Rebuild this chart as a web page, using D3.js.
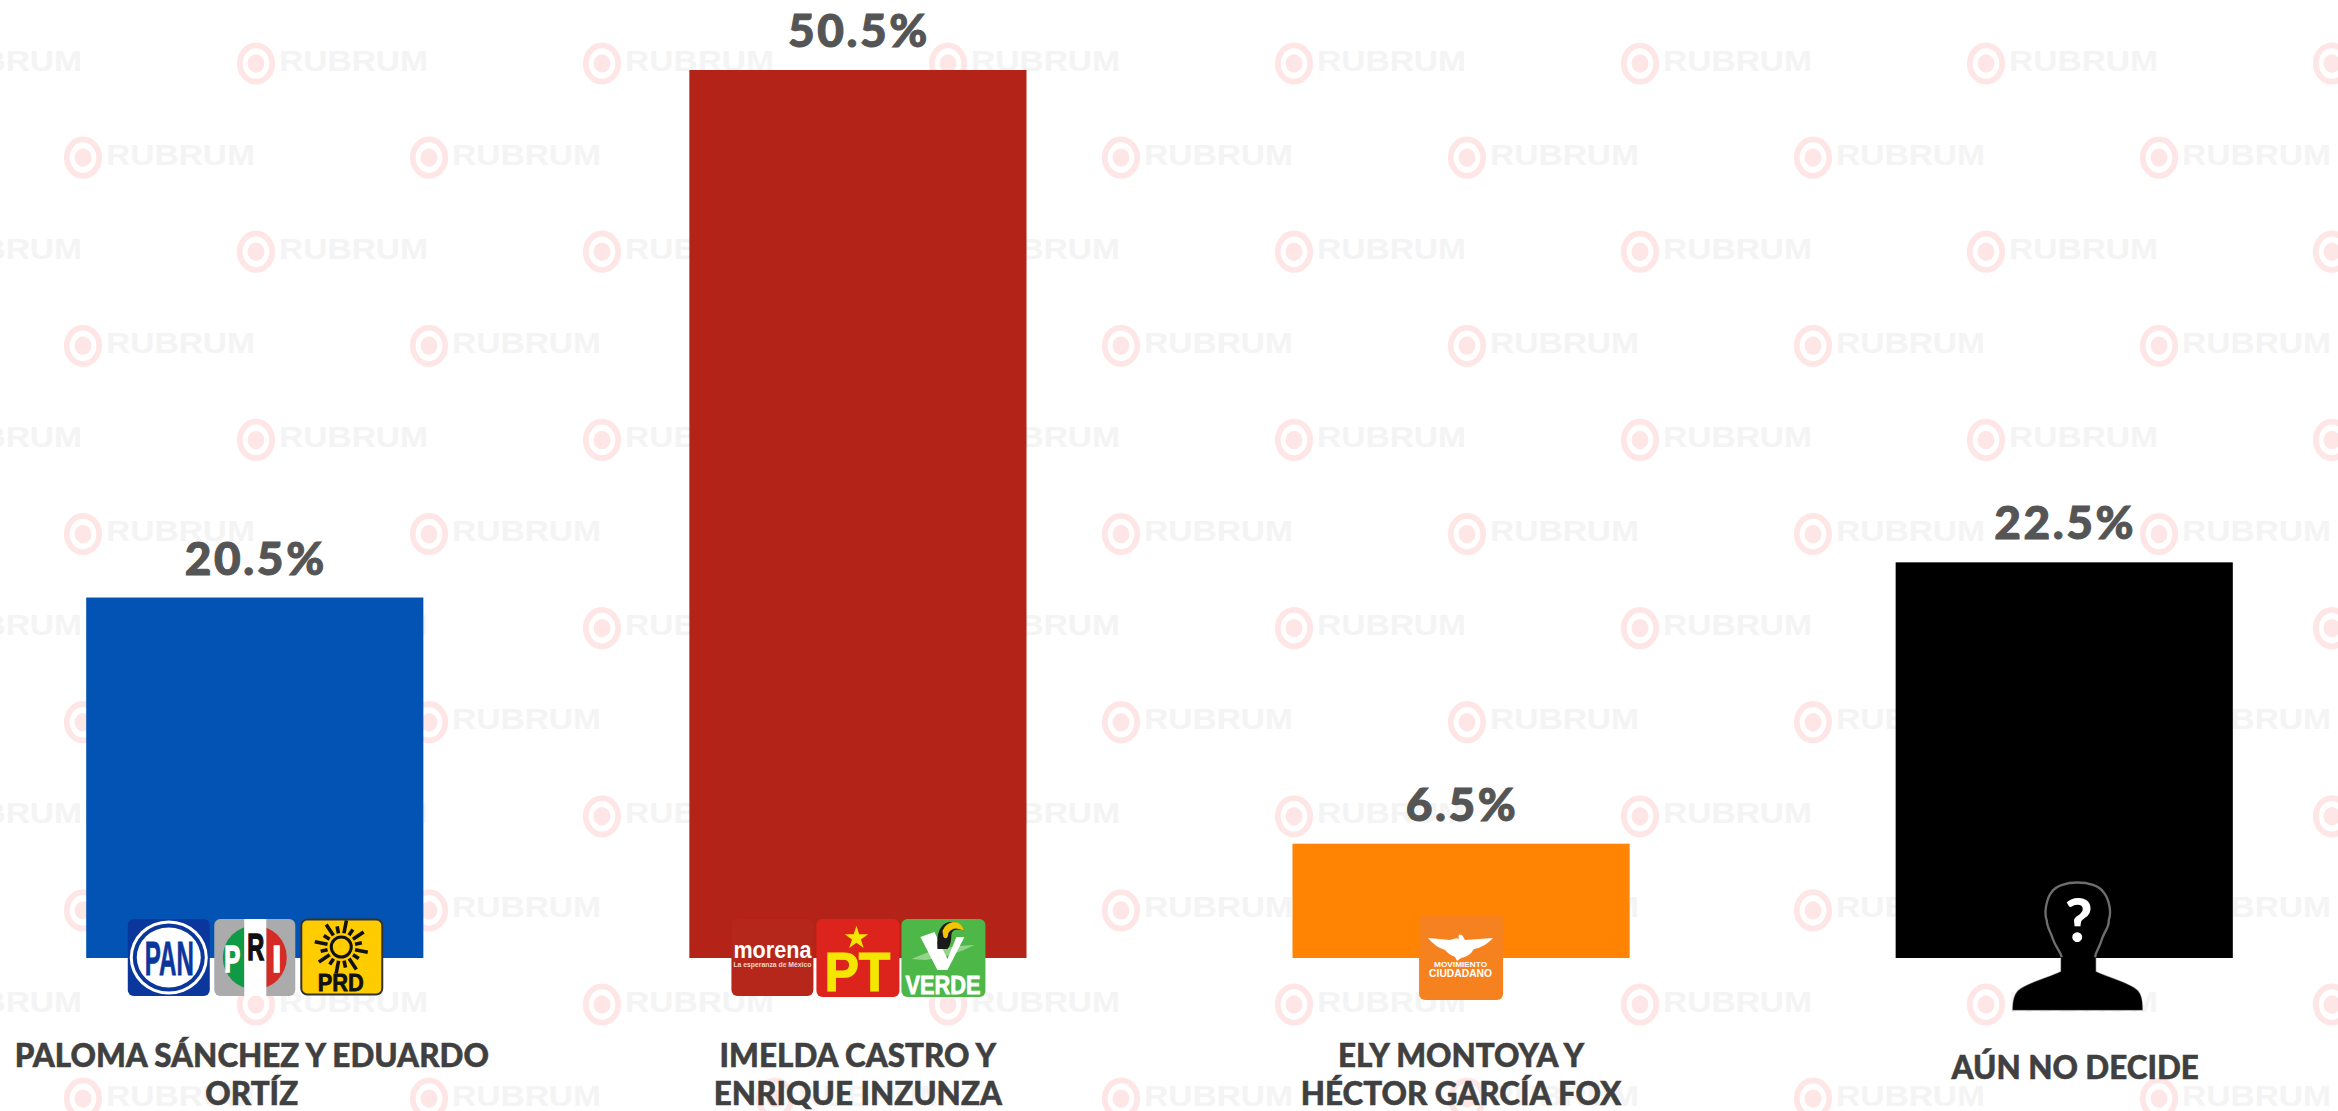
<!DOCTYPE html>
<html><head><meta charset="utf-8">
<script src="https://cdn.jsdelivr.net/npm/d3@7"></script>
<style>html,body{margin:0;padding:0;background:#fff;overflow:hidden}svg{display:block}</style>
</head><body><svg id="c" width="2338" height="1111"></svg>
<script>
const categories = ["PALOMA SÁNCHEZ Y EDUARDO ORTÍZ","IMELDA CASTRO Y ENRIQUE INZUNZA","ELY MONTOYA Y HÉCTOR GARCÍA FOX","AÚN NO DECIDE"];
const labelLines = [["PALOMA SÁNCHEZ Y EDUARDO","ORTÍZ"],["IMELDA CASTRO Y","ENRIQUE INZUNZA"],["ELY MONTOYA Y","HÉCTOR GARCÍA FOX"],["AÚN NO DECIDE"]];
const values = [20.5,50.5,6.5,22.5];
const barColors = ["#0353b4","#b32317","#ff8403","#000000"];

const svg = d3.select("#c");
const x = d3.scaleBand().domain(categories).range([-46.5,2365.5]).paddingInner(0.441).paddingOuter(0.22);
const y = d3.scaleLinear().domain([0,50.5]).range([958,70]);

// watermark
const wm = svg.append("g");
d3.range(12).forEach(r=>{
  const cy = 63.5+r*94.1;
  d3.range(8).forEach(k=>{
    const cx = (r%2?83:-90)+k*346;
    const g = wm.append("g").attr("transform",`translate(${cx},${cy})`);
    g.append("ellipse").attr("rx",16.2).attr("ry",18.2).attr("fill","none").attr("stroke","#fee6e6").attr("stroke-width",5.8);
    g.append("ellipse").attr("rx",8.5).attr("ry",9.2).attr("fill","#fee6e6");
    g.append("text").attr("x",23).attr("y",7).attr("font-family","Liberation Sans").attr("font-weight",700)
      .attr("font-size",29).attr("fill","#f4f4f4").attr("textLength",149).attr("lengthAdjust","spacingAndGlyphs").text("RUBRUM");
  });
});

// bars
svg.append("g").selectAll("rect").data(categories).join("rect")
  .attr("x",d=>x(d)).attr("width",x.bandwidth())
  .attr("y",(d,i)=>y(values[i])).attr("height",(d,i)=>y(0)-y(values[i]))
  .attr("fill",(d,i)=>barColors[i]);

// value labels
svg.append("g").selectAll("text").data(categories).join("text")
  .attr("x",d=>x(d)+x.bandwidth()/2+1).attr("y",(d,i)=>y(values[i])-23)
  .attr("text-anchor","middle").attr("font-family","Lato").attr("font-weight",900).attr("font-size",46)
  .attr("letter-spacing",2.6).attr("stroke","#555555").attr("stroke-width",1)
  .attr("fill","#555555").text((d,i)=>values[i].toFixed(1)+"%");

// category labels
const labelTop = [1066.5,1066.5,1066.5,1079];
const labelDx = [-3,0,0,11];
svg.append("g").selectAll("text").data(categories).join("text")
  .attr("text-anchor","middle").attr("font-family","Lato").attr("font-weight",900).attr("font-size",31.4)
  .attr("fill","#404040").attr("stroke","#404040").attr("stroke-width",0.5)
  .each(function(d,i){
    d3.select(this).selectAll("tspan").data(labelLines[i]).join("tspan")
      .attr("x",x(d)+x.bandwidth()/2+labelDx[i]).attr("y",(l,j)=>labelTop[i]+j*38.5).text(l=>l);
  });

// logos
const font = "Liberation Sans";
function box(g,w,h,fill,stroke){return g.append("rect").attr("width",w).attr("height",h).attr("rx",6).attr("fill",fill).attr("stroke",stroke||"none");}
function txt(g,s,tx,ty,size,fill,len,sw){
  const t=g.append("text").attr("x",tx).attr("y",ty).attr("font-family",font).attr("font-weight",700).attr("font-size",size).attr("fill",fill).text(s);
  if(len) t.attr("textLength",len).attr("lengthAdjust","spacingAndGlyphs");
  if(sw) t.attr("stroke",fill).attr("stroke-width",sw);
  return t;
}
function logoPAN(g){
  box(g,82,77,"#0b369c");
  g.append("ellipse").attr("cx",41).attr("cy",38.5).attr("rx",39).attr("ry",37).attr("fill","#fff");
  g.append("ellipse").attr("cx",41).attr("cy",38.5).attr("rx",36).attr("ry",34).attr("fill","#0b369c");
  g.append("ellipse").attr("cx",41).attr("cy",38.5).attr("rx",32).attr("ry",30).attr("fill","#fff");
  txt(g,"PAN",17,56,48,"#0b369c",49,0.8);
}
function logoPRI(g){
  box(g,81,77,"#ababab");
  g.append("clipPath").attr("id","priL").append("rect").attr("width",30).attr("height",77);
  g.append("clipPath").attr("id","priR").append("rect").attr("x",52).attr("width",30).attr("height",77);
  g.append("circle").attr("cx",40.5).attr("cy",38.5).attr("r",32).attr("fill","#0f9a45").attr("clip-path","url(#priL)");
  g.append("circle").attr("cx",40.5).attr("cy",38.5).attr("r",32).attr("fill","#d52b26").attr("clip-path","url(#priR)");
  g.append("rect").attr("x",30).attr("width",22).attr("height",77).attr("fill","#fff");
  txt(g,"P",10,53,37,"#fff",16,1.5);
  txt(g,"R",33,41,37,"#111",17,1.5);
  txt(g,"I",58,53,37,"#fff",9,1.5);
}
function logoPRD(g){
  box(g,81,75,"#ffcc00","#333").attr("stroke-width",2).attr("x",0.5).attr("y",0.5);
  const rays=g.append("g").attr("transform","translate(40.5,28)");
  rays.selectAll("line").data(d3.range(16)).join("line")
    .attr("x1",14).attr("x2",d=>d%2?21:27).attr("stroke","#111").attr("stroke-width",3.6)
    .attr("transform",d=>`rotate(${d*22.5+11})`);
  rays.append("circle").attr("r",10).attr("fill","none").attr("stroke","#111").attr("stroke-width",3);
  txt(g,"PRD",17,72,23.5,"#111",46,0.8);
}
function logoMorena(g){
  box(g,82,77,"#b5261b");
  txt(g,"morena",2,39,24,"#fff",78);
  txt(g,"La esperanza de México",2,48,7.5,"#f4d5d0",78);
}
function logoPT(g){
  box(g,83,78,"#dc241c");
  g.append("path").attr("d",d3.symbol(d3.symbolStar,170)()).attr("transform","translate(40,19)").attr("fill","#f3e600");
  txt(g,"PT",8,72,55,"#f3e600",66,1.2);
}
function logoVerde(g){
  box(g,84,78,"#4db848");
  g.append("path").attr("d","M10,40 Q40,26 73,26 Q50,38 24,41 Z").attr("fill","#93d48a");
  g.append("path").attr("d","M19,18 L33,13 L46,40 L55,18 L63,18 L46,51 L36,51 Z").attr("fill","#fff");
  g.append("path").attr("d","M36,30 Q34,6 48,3 Q60,3 63,12 Q52,8 50,15 Q50,26 46,30 Z").attr("fill","#1a1a1a");
  g.append("path").attr("d","M41,12 Q44,4 52,3 Q60,3 63,12 Q52,6 47,14 Q46,22 42,18 Z").attr("fill","#f2c500");
  txt(g,"VERDE",4,75,25,"#fff",75,0.8);
}
function logoMC(g){
  box(g,84,85,"#f5821f");
  g.append("path").attr("d","M9,23 L31,25 Q38,22 40,24 Q38,18 43,20 L46,25 L74,23 Q66,32 55,34 Q50,42 42,43 L38,46 L36,42 Q30,40 26,35 Q16,32 9,23 Z").attr("fill","#fff");
  txt(g,"MOVIMIENTO",15,52,8,"#fff",53);
  txt(g,"CIUDADANO",10,62,11.5,"#fff",63);
}
function logoUnknown(g){
  const sc=g.append("g").attr("transform","scale(0.3333) translate(-533,-58)");
  sc.append("path").attr("d","M485,295 C480,275 468,270 458,240 C452,220 440,205 440,185 C432,165 438,120 455,100 C480,62 585,62 610,100 C630,125 634,165 626,185 C628,205 612,220 606,240 C598,270 588,275 585,295 L585,340 C620,358 690,375 712,398 C722,410 725,425 725,452 L340,452 C340,425 345,410 355,398 C380,375 450,358 485,340 Z")
    .attr("fill","#000").attr("stroke","#6e6e6e").attr("stroke-width",7);
  sc.append("path").attr("d","M485,296 L485,340 C450,358 380,375 355,398 C345,410 340,425 340,452 L725,452 C725,425 722,410 712,398 C690,375 620,358 585,340 L585,296 Z").attr("fill","#000").attr("stroke","#000").attr("stroke-width",3);
  g.append("text").attr("x",1).attr("y",64).attr("text-anchor","middle").attr("font-family","Lato").attr("font-weight",900).attr("font-size",60).attr("fill","#fff").text("?");
}
const logoRows = [
  [[logoPAN,-127,-39],[logoPRI,-40.5,-39],[logoPRD,46,-39]],
  [[logoMorena,-126.5,-39],[logoPT,-41.5,-39],[logoVerde,43.5,-39]],
  [[logoMC,-42,-43]],
  [[logoUnknown,13.5,-80]]
];
const lg = svg.append("g");
categories.forEach((d,i)=>{
  const cx=x(d)+x.bandwidth()/2;
  logoRows[i].forEach(([fn,dx,dy])=>{
    fn(lg.append("g").attr("transform",`translate(${cx+dx},${y(0)+dy})`));
  });
});
</script></body></html>
